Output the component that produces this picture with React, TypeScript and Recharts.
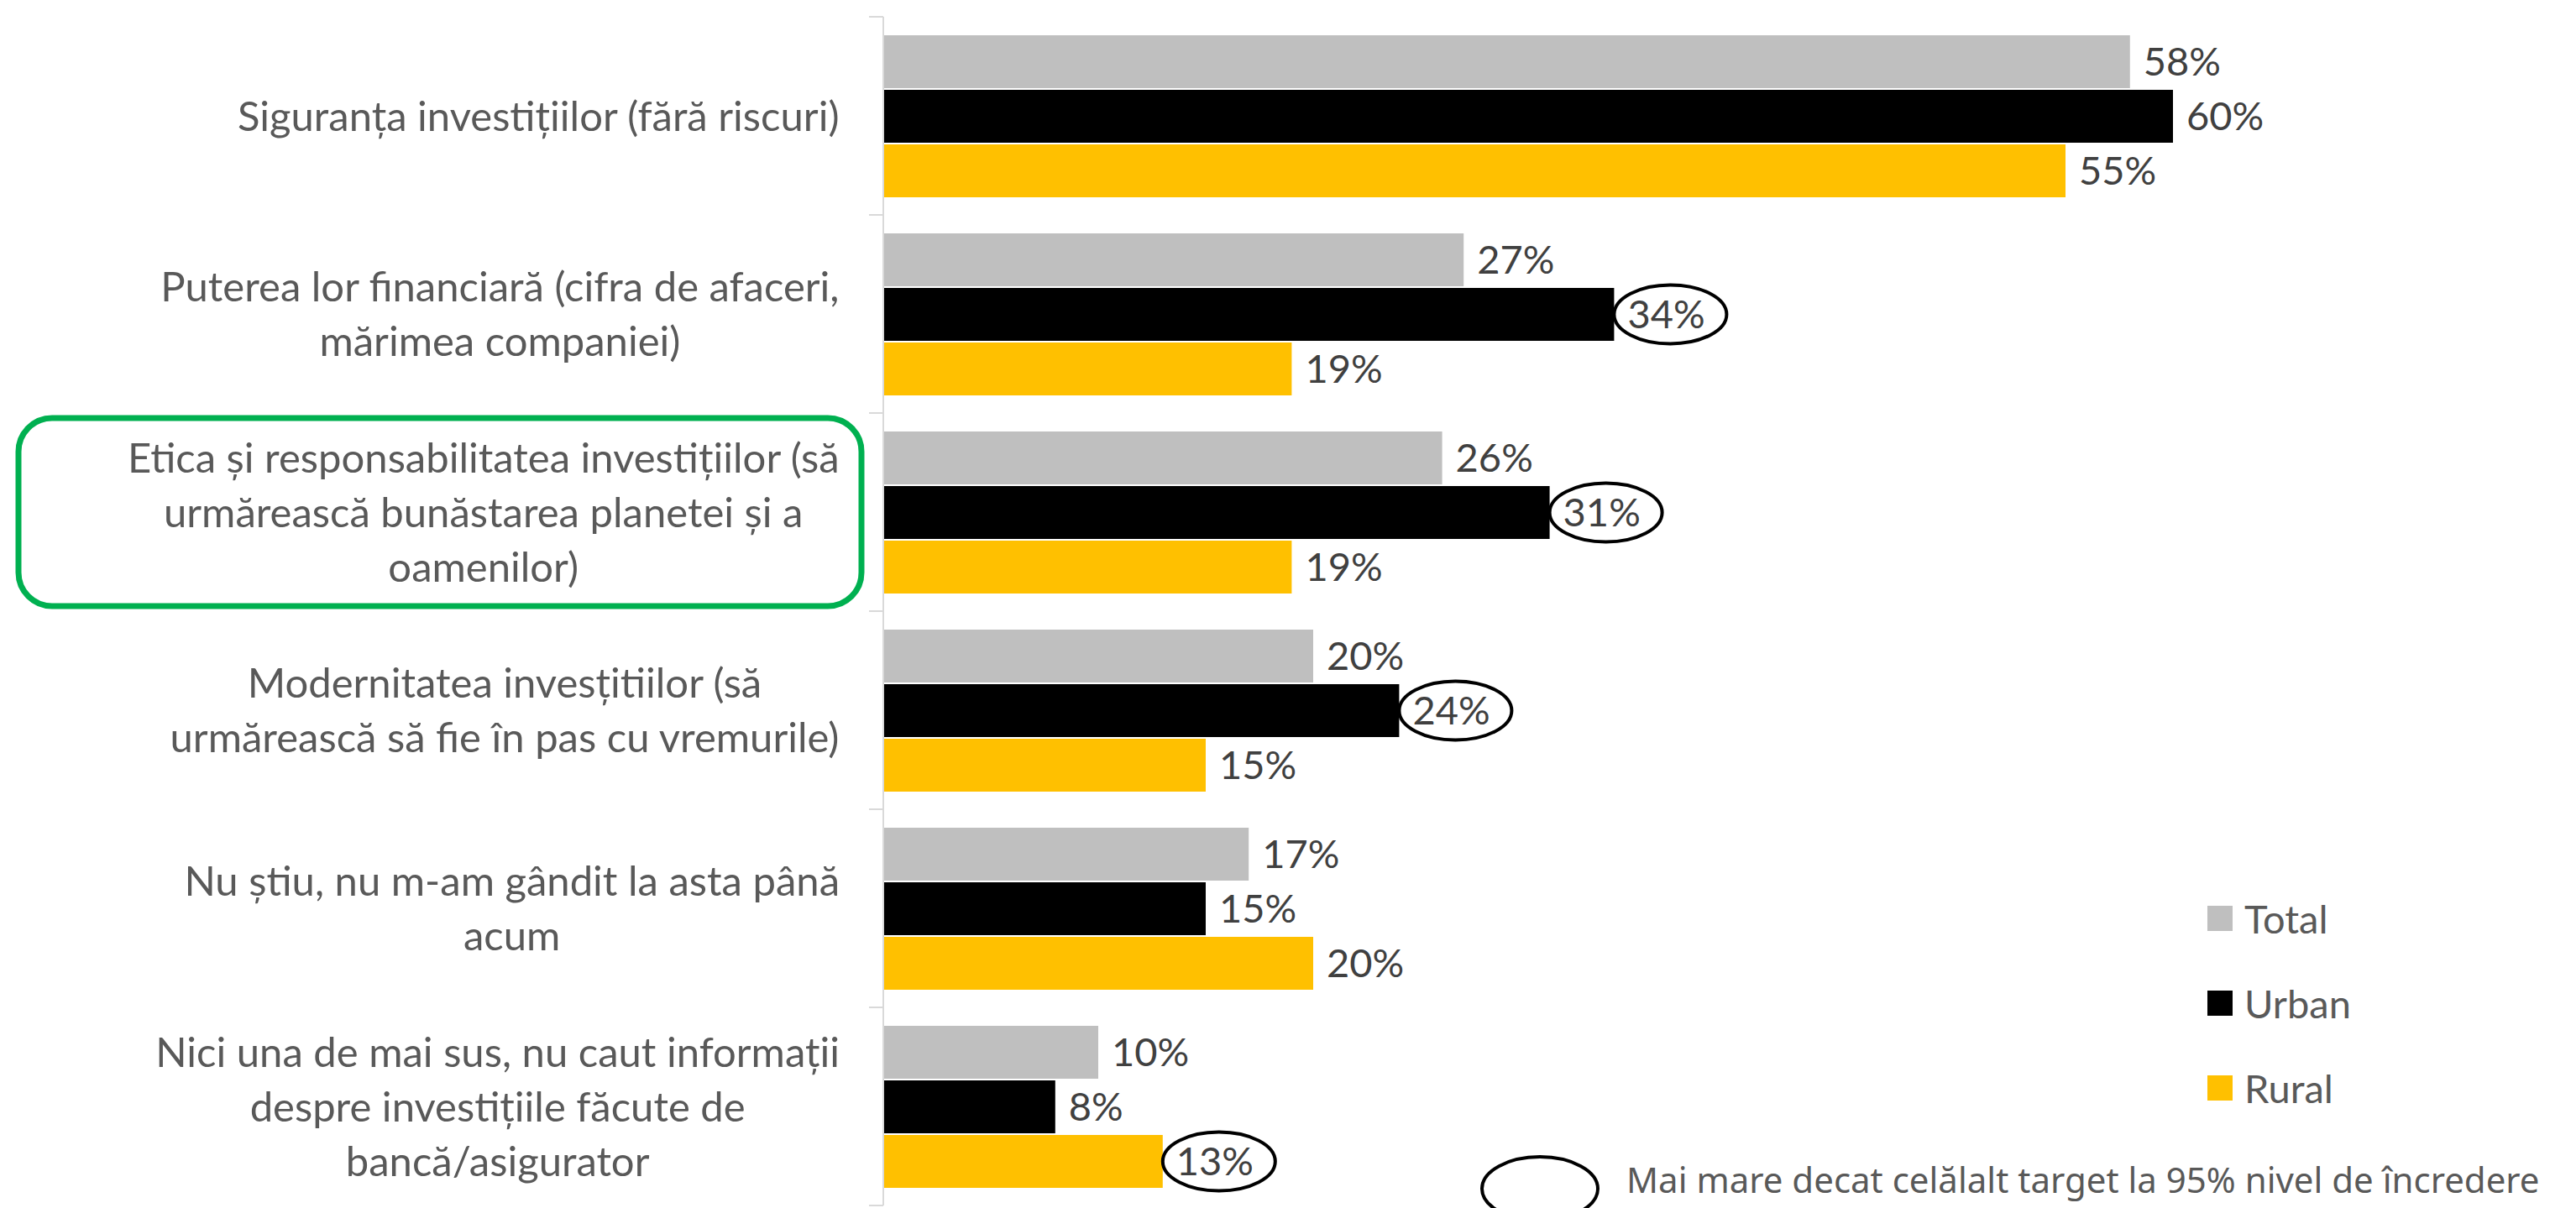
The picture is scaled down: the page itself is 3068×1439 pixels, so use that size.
import { BarChart, Bar, XAxis, YAxis, Legend, LabelList } from 'recharts';

// category labels, line breaks as in the source slide
const categories = [
  'Siguranța investițiilor (fără riscuri)',
  'Puterea lor financiară (cifra de afaceri,\nmărimea companiei)',
  'Etica și responsabilitatea investițiilor (să\nurmărească bunăstarea planetei și a\noamenilor)',
  'Modernitatea invesțitiilor (să\nurmărească să fie în pas cu vremurile)',
  'Nu știu, nu m-am gândit la asta până\nacum',
  'Nici una de mai sus, nu caut informații\ndespre investițiile făcute de\nbancă/asigurator',
];
const seriesNames = ['Total', 'Urban', 'Rural'];
const seriesColors = ['#BFBFBF', '#000000', '#FFC000'];
const totalValues = [58, 27, 26, 20, 17, 10];
const urbanValues = [60, 34, 31, 24, 15, 8];
const ruralValues = [55, 19, 19, 15, 20, 13];

// circled = significantly higher than the other target (95%)
const urbanHigher = [false, true, true, true, false, false];
const ruralHigher = [false, false, false, false, false, true];
const highlighted = [false, false, true, false, false, false];

const noteText = 'Mai mare decat celălalt target la 95% nivel de încredere';

const W = 3068;
const H = 1439;
const AXIS_X = 1052;
const TOP = 20;
const BOTTOM = 3;
const X_MAX = 70;
const PX_PER_UNIT = 25.6;
const BAND = (H - TOP - BOTTOM) / categories.length;
const FONT = 'Lato, "Open Sans", sans-serif';
const LABEL_SIZE = 49;
const VALUE_SIZE = 47;
const LINE_H = 65;

const data = categories.map((name, i) => ({
  name,
  Total: totalValues[i],
  Urban: urbanValues[i],
  Rural: ruralValues[i],
}));

let measureCtx: CanvasRenderingContext2D | null = null;
function textWidth(s: string, size: number) {
  if (!measureCtx) measureCtx = document.createElement('canvas').getContext('2d');
  if (!measureCtx) return s.length * size * 0.45;
  measureCtx.font = `${size}px Lato`;
  return measureCtx.measureText(s).width;
}

function CategoryTick(props: any) {
  const { y, payload, index } = props;
  const lines = String(payload.value).split('\n');
  const maxW = Math.max(...lines.map((l) => textWidth(l, LABEL_SIZE)));
  const right = AXIS_X - 52;
  const cx = right - maxW / 2;
  const first = y + LABEL_SIZE * 0.36 - ((lines.length - 1) * LINE_H) / 2;
  const top = y - BAND / 2;
  const last = index === categories.length - 1;
  return (
    <g>
      <line x1={AXIS_X - 17} x2={AXIS_X} y1={top} y2={top} stroke="#D9D9D9" strokeWidth={2} />
      {last && (
        <line x1={AXIS_X - 17} x2={AXIS_X} y1={y + BAND / 2} y2={y + BAND / 2} stroke="#D9D9D9" strokeWidth={2} />
      )}
      {highlighted[index] && (
        <rect x={22} y={y - 112} width={1004} height={224} rx={40} fill="none" stroke="#00B050" strokeWidth={7} />
      )}
      <text textAnchor="middle" fill="#595959" fontSize={LABEL_SIZE} fontFamily={FONT}>
        {lines.map((l, i) => (
          <tspan key={i} x={cx} y={first + i * LINE_H}>
            {l}
          </tspan>
        ))}
      </text>
    </g>
  );
}

const makeLabel = (circled: boolean[]) => (props: any) => {
  const { x, y, width, height, value, index } = props;
  const end = Number(x) + Number(width);
  const cy = Number(y) + Number(height) / 2;
  return (
    <g>
      {circled[index] && (
        <ellipse cx={end + 67} cy={cy} rx={67} ry={35} fill="none" stroke="#000" strokeWidth={4} />
      )}
      <text x={end + 16} y={cy} dy="0.36em" fill="#404040" fontSize={VALUE_SIZE} fontFamily={FONT}>
        {value}%
      </text>
    </g>
  );
};

function LegendContent() {
  return (
    <div style={{ fontFamily: FONT, fontSize: VALUE_SIZE, color: '#595959' }}>
      {seriesNames.map((name, i) => (
        <div key={name} style={{ display: 'flex', alignItems: 'center', height: 101 }}>
          <span
            style={{ width: 30, height: 30, background: seriesColors[i], marginRight: 14, display: 'inline-block' }}
          />
          <span>{name}</span>
        </div>
      ))}
    </div>
  );
}

export default function App() {
  return (
    <div style={{ position: 'absolute', left: 0, top: 0, width: W, height: H, background: '#fff' }}>
      <BarChart
        layout="vertical"
        width={W}
        height={H}
        data={data}
        margin={{ top: TOP, right: W - AXIS_X - X_MAX * PX_PER_UNIT, bottom: BOTTOM, left: 0 }}
        barCategoryGap="9.3%"
        barGap={2}
      >
        <XAxis type="number" domain={[0, X_MAX]} hide />
        <YAxis
          type="category"
          dataKey="name"
          width={AXIS_X}
          interval={0}
          axisLine={{ stroke: '#D9D9D9', strokeWidth: 2 }}
          tickLine={false}
          tick={(p: any) => <CategoryTick {...p} />}
        />
        <Legend
          layout="horizontal"
          align="center"
          verticalAlign="middle"
          content={<LegendContent />}
          wrapperStyle={{ left: 2629, top: 1043, width: 420, height: 310 }}
        />
        {seriesNames.map((name, i) => (
          <Bar key={name} dataKey={name} fill={seriesColors[i]} isAnimationActive={false}>
            <LabelList
              dataKey={name}
              content={makeLabel(name === 'Urban' ? urbanHigher : name === 'Rural' ? ruralHigher : categories.map(() => false))}
            />
          </Bar>
        ))}
      </BarChart>
      <svg width={W} height={H} style={{ position: 'absolute', left: 0, top: 0, pointerEvents: 'none' }}>
        <ellipse cx={1834} cy={1416} rx={69} ry={38} fill="none" stroke="#000" strokeWidth={4} />
        <text x={1937} y={1421} fill="#595959" fontSize={42} fontFamily='"Noto Sans", "Open Sans", sans-serif'>
          {noteText}
        </text>
      </svg>
    </div>
  );
}
